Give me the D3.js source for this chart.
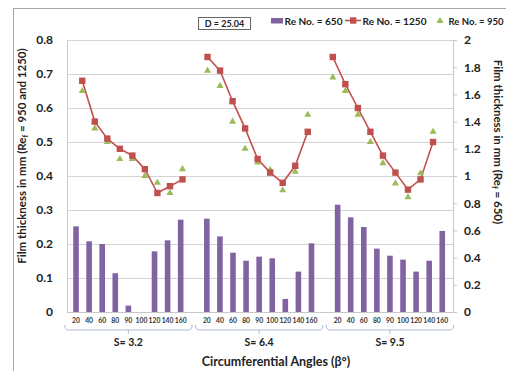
<!DOCTYPE html>
<html><head><meta charset="utf-8">
<script src="https://cdn.jsdelivr.net/npm/d3@7"></script>
<style>body{margin:0;background:#fff}svg{display:block}text{font-family:Lato,"Open Sans",sans-serif}</style>
</head><body><svg id="c" width="506" height="371"></svg>
<script>
const groups = ["S= 3.2", "S= 6.4", "S= 9.5"];
const angles = [20, 40, 60, 80, 90, 100, 120, 140, 160];
const re650 = [0.63, 0.52, 0.50, 0.285, 0.047, null, 0.446, 0.527, 0.679,
               0.686, 0.556, 0.436, 0.377, 0.407, 0.395, 0.096, 0.297, 0.505,
               0.789, 0.696, 0.625, 0.466, 0.414, 0.385, 0.297, 0.377, 0.596];
const re1250 = [0.68, 0.56, 0.51, 0.48, 0.46, 0.42, 0.35, 0.37, 0.39,
                0.75, 0.71, 0.62, 0.54, 0.45, 0.41, 0.38, 0.43, 0.53,
                0.75, 0.67, 0.60, 0.53, 0.46, 0.41, 0.36, 0.39, 0.50];
const re950 = [0.65, 0.54, 0.50, 0.45, 0.45, 0.40, 0.38, 0.35, 0.42,
               0.71, 0.665, 0.56, 0.48, 0.44, 0.418, 0.358, 0.413, 0.58,
               0.69, 0.65, 0.58, 0.50, 0.438, 0.378, 0.338, 0.408, 0.53];
const leftTicks = [0, 0.1, 0.2, 0.3, 0.4, 0.5, 0.6, 0.7, 0.8];
const rightTicks = [0, 0.2, 0.4, 0.6, 0.8, 1, 1.2, 1.4, 1.6, 1.8, 2];
const legendLabels = ["Re No. = 650", "Re No. = 1250", "Re No. = 950"];
const boxLabel = "D = 25.04";

const purple = "#8064a2", red = "#c0504d", green = "#9bbb59";
const svg = d3.select("#c");

// category keys: 9 + blank + 9 + blank + 9
const cats = [];
groups.forEach((g, gi) => {
  angles.forEach(a => cats.push(gi + "|" + a));
  if (gi < groups.length - 1) cats.push("gap" + gi);
});
const rows = [];
groups.forEach((g, gi) => angles.forEach((a, ai) => {
  const i = gi * angles.length + ai;
  rows.push({key: gi + "|" + a, g: gi, a, v650: re650[i], v1250: re1250[i], v950: re950[i]});
}));

const plotL = 67, plotR = 453, plotT = 40, plotB = 312;
const xBar = d3.scaleBand().domain(cats).range([69.5, 448.8]);
const xLine = d3.scaleBand().domain(cats).range([76, 439.3]);
const yL = d3.scaleLinear().domain([0, 0.8]).range([plotB, plotT]);
const yR = d3.scaleLinear().domain([0, 2]).range([plotB, plotT]);

// outer border
svg.append("rect").attr("x", 13.5).attr("y", 8.5).attr("width", 520).attr("height", 400)
  .attr("fill", "none").attr("stroke", "#a6a6a6").attr("stroke-width", 1);

// gridlines
svg.append("g").selectAll("line").data(leftTicks.filter(t => t > 0)).join("line")
  .attr("x1", plotL).attr("x2", plotR).attr("y1", d => Math.round(yL(d)) + 0.5).attr("y2", d => Math.round(yL(d)) + 0.5)
  .attr("stroke", "#d4d4d4");

// left axis
const gl = svg.append("g").attr("transform", `translate(${plotL},0)`)
  .call(d3.axisLeft(yL).tickValues(leftTicks).tickFormat(d3.format("")).tickSize(0).tickPadding(14));
gl.select(".domain").attr("stroke", "#c8c8c8");
gl.selectAll("text").attr("font-size", 12).attr("font-weight", "bold").attr("fill", "#222");

// right axis
const gr = svg.append("g").attr("transform", `translate(${plotR},0)`)
  .call(d3.axisRight(yR).tickValues(rightTicks).tickFormat(d3.format("")).tickSize(4).tickPadding(7));
gr.select(".domain").attr("stroke", "#c8c8c8");
gr.selectAll("line").attr("stroke", "#c8c8c8");
gr.selectAll("text").attr("font-size", 12).attr("font-weight", "bold").attr("fill", "#222");

// baseline
svg.append("line").attr("x1", plotL).attr("x2", plotR).attr("y1", plotB + 0.5).attr("y2", plotB + 0.5).attr("stroke", "#c8c8c8");

// bars
const bw = 5.6;
svg.append("g").selectAll("rect").data(rows.filter(r => r.v650 != null)).join("rect")
  .attr("x", d => xBar(d.key) + xBar.bandwidth() / 2 - bw / 2)
  .attr("width", bw)
  .attr("y", d => yR(d.v650))
  .attr("height", d => plotB - yR(d.v650))
  .attr("fill", purple);

// lines per group
const line = d3.line().x(d => xLine(d.key) + xLine.bandwidth() / 2).y(d => yL(d.v1250));
groups.forEach((g, gi) => {
  svg.append("path").datum(rows.filter(r => r.g === gi))
    .attr("d", line).attr("fill", "none").attr("stroke", red).attr("stroke-width", 1.6);
});
// triangles
const tri = d3.symbol().type(d3.symbolTriangle).size(22);
svg.append("g").selectAll("path").data(rows).join("path")
  .attr("transform", d => `translate(${xLine(d.key) + xLine.bandwidth() / 2},${yL(d.v950)})`)
  .attr("d", tri).attr("fill", green);
// squares
svg.append("g").selectAll("rect").data(rows).join("rect")
  .attr("x", d => xLine(d.key) + xLine.bandwidth() / 2 - 3.2)
  .attr("y", d => yL(d.v1250) - 3.2)
  .attr("width", 6.4).attr("height", 6.4).attr("fill", red);

// category tick labels
svg.append("g").selectAll("text").data(rows).join("text")
  .attr("x", d => xBar(d.key) + xBar.bandwidth() / 2).attr("y", 322.5)
  .attr("text-anchor", "middle").attr("font-size", 6.8).attr("font-weight", "bold").attr("fill", "#333")
  .text(d => d.a);

// group brackets & labels
groups.forEach((g, gi) => {
  const k0 = gi + "|" + angles[0], k1 = gi + "|" + angles[angles.length - 1];
  const x0 = xBar(k0) - xBar.bandwidth() * 0.45 + 1, x1 = xBar(k1) + xBar.bandwidth() * 1.45 - 1;
  const xm = (x0 + x1) / 2;
  svg.append("path").attr("d", `M${x0},325 Q${x0},330 ${x0 + 4},330 L${x1 - 4},330 Q${x1},330 ${x1},325 M${xm},330 L${xm},334`)
    .attr("fill", "none").attr("stroke", "#aebbd0").attr("stroke-width", 1);
  svg.append("text").attr("x", xm).attr("y", 346).attr("text-anchor", "middle")
    .attr("font-size", 10.5).attr("font-weight", "bold").attr("fill", "#222").text(g);
});

// axis titles
svg.append("text").attr("x", 276).attr("y", 366).attr("text-anchor", "middle")
  .attr("font-size", 12.5).attr("font-weight", "bold").attr("fill", "#222").text("Circumferential Angles (β°)");
const lt = svg.append("text").attr("transform", "translate(26,156) rotate(-90)").attr("text-anchor", "middle")
  .attr("font-size", 11.5).attr("font-weight", "bold").attr("fill", "#222");
lt.append("tspan").text("Film thickness in mm (Re");
lt.append("tspan").text("f").attr("font-size", 7.5).attr("dy", 2);
lt.append("tspan").text(" = 950 and 1250)").attr("dy", -2);
const rt = svg.append("text").attr("transform", "translate(494,142) rotate(90)").attr("text-anchor", "middle")
  .attr("font-size", 11.5).attr("font-weight", "bold").attr("fill", "#222");
rt.append("tspan").text("Film thickness in mm (Re");
rt.append("tspan").text("f").attr("font-size", 7.5).attr("dy", 2);
rt.append("tspan").text(" =  650)").attr("dy", -2);

// D box
svg.append("rect").attr("x", 198.5).attr("y", 17.5).attr("width", 52).attr("height", 12)
  .attr("fill", "#fff").attr("stroke", "#666");
svg.append("text").attr("x", 224.5).attr("y", 26.8).attr("text-anchor", "middle")
  .attr("font-family", "'Liberation Serif',serif").attr("font-size", 9).attr("font-weight", "bold").attr("fill", "#222")
  .text(boxLabel);

// legend
const lg = svg.append("g").attr("font-size", 10).attr("font-weight", "bold").attr("fill", "#222");
lg.append("rect").attr("x", 271).attr("y", 18).attr("width", 12).attr("height", 5.5).attr("fill", purple);
lg.append("text").attr("x", 284.5).attr("y", 24.5).attr("textLength", 58).attr("lengthAdjust", "spacingAndGlyphs").text(legendLabels[0]);
lg.append("line").attr("x1", 345).attr("x2", 361).attr("y1", 20.5).attr("y2", 20.5).attr("stroke", red).attr("stroke-width", 1.6);
lg.append("rect").attr("x", 350).attr("y", 17.3).attr("width", 6.4).attr("height", 6.4).attr("fill", red);
lg.append("text").attr("x", 362.5).attr("y", 24.5).attr("textLength", 64).attr("lengthAdjust", "spacingAndGlyphs").text(legendLabels[1]);
lg.append("path").attr("transform", "translate(440,21)").attr("d", tri).attr("fill", green);
lg.append("text").attr("x", 448.5).attr("y", 24.5).attr("textLength", 55).attr("lengthAdjust", "spacingAndGlyphs").text(legendLabels[2]);
</script></body></html>
